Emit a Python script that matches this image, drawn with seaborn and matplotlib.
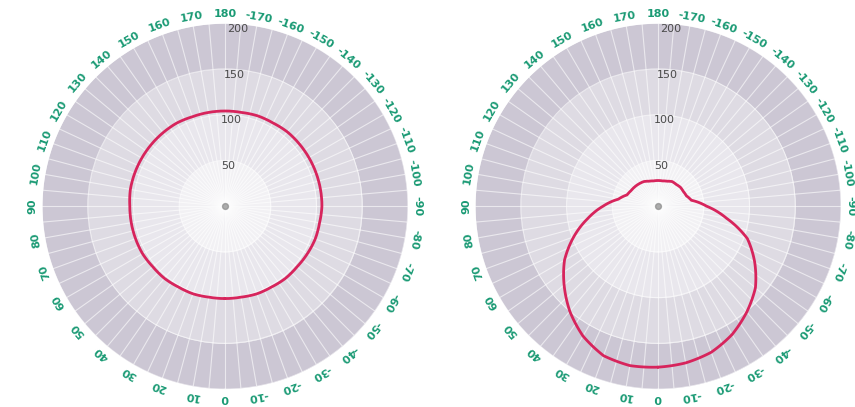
import numpy as np
import pandas as pd
import seaborn as sns
import matplotlib.pyplot as plt

# angles in degrees (0 at bottom, positive to the left), radius values
angles = [0, 10, 20, 30, 40, 50, 60, 70, 80, 90, 100, 110, 120, 130, 140, 150, 160, 170,
          180, -170, -160, -150, -140, -130, -120, -110, -100, -90, -80, -70, -60, -50, -40, -30, -20, -10]
left_r = [101, 101, 102, 102, 103, 103, 104, 104, 104, 104, 105, 105, 105, 105, 105, 105, 104, 104,
          104, 104, 105, 105, 106, 106, 106, 106, 106, 106, 105, 105, 104, 103, 103, 102, 102, 101]
right_r = [176, 177, 174, 164, 150, 134, 118, 98, 78, 60, 44, 36, 34, 33, 32, 31, 29, 28,
           28, 28, 29, 31, 31, 32, 32, 33, 37, 53, 76, 104, 122, 139, 151, 162, 170, 174]
rings = [0, 50, 100, 150, 200]
ring_labels = ["50", "100", "150", "200"]
band_colors = ["#f2f1f4", "#e9e7ed", "#dedbe3", "#ccc7d4"]
tick_angles = list(range(-170, 190, 10))

sns.set_theme(style="white")

fig = plt.figure(figsize=(8.55, 4.07), dpi=100)
ax1 = fig.add_axes([0.0491, 0.044, 0.428, 0.899], projection="polar")
ax2 = fig.add_axes([0.5556, 0.044, 0.428, 0.899], projection="polar")


def draw(ax, values):
    ax.set_theta_zero_location("S")
    ax.set_theta_direction(-1)
    full = np.linspace(0, 2 * np.pi, 361)
    for i, c in enumerate(band_colors):
        ax.fill_between(full, rings[i], rings[i + 1], color=c, lw=0, zorder=0)
    ax.set_ylim(0, 200)
    ax.set_xticks(np.radians(np.arange(0, 360, 5)))
    ax.set_xticklabels([])
    ax.set_yticks(rings[1:])
    ax.set_yticklabels([])
    ax.grid(True, color="white", lw=0.8, alpha=0.6)
    ax.spines["polar"].set_visible(False)
    ax.set_facecolor("none")

    df = pd.DataFrame({"a": [a % 360 for a in angles], "r": values}).sort_values("a")
    df = pd.concat([df, pd.DataFrame({"a": [360], "r": [df["r"].iloc[0]]})])
    df["t"] = np.radians(df["a"])
    sns.lineplot(data=df, x="t", y="r", ax=ax, color="#d7245c", lw=2, sort=False, zorder=5)
    # let the polar transform draw each segment as a smooth curve
    for line in ax.get_lines():
        line.get_path()._interpolation_steps = 40
    ax.set_xlabel("")
    ax.set_ylabel("")

    ax.scatter([0], [0], s=18, color="#8a8a8a", alpha=0.7, zorder=6)

    for a in tick_angles:
        ax.text(np.radians(a), 210, str(a), rotation=180 - a, rotation_mode="anchor",
                ha="center", va="center", color="#1a9a74", fontsize=8,
                fontweight="bold", clip_on=False)
    for v, lab in zip(rings[1:], ring_labels):
        ax.text(np.radians(184), v - 6, lab, ha="center", va="center",
                color="#4a4a4a", fontsize=8)


draw(ax1, left_r)
draw(ax2, right_r)

fig.savefig("out.png", dpi=100)
